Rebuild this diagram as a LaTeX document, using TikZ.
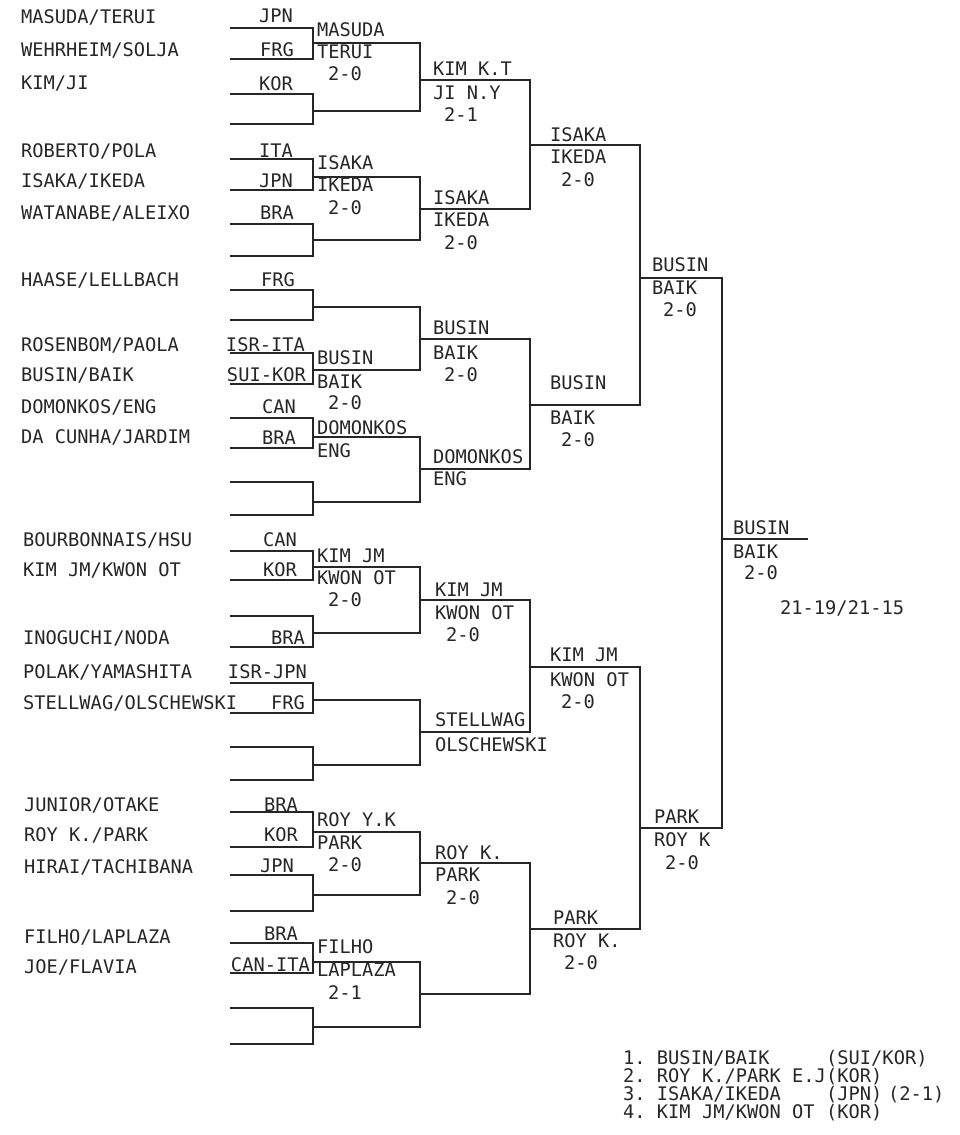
\documentclass[tikz,border=0pt]{standalone}
\usepackage{fontspec}
\setmonofont{DejaVu Sans Mono}
\newcounter{lb}
\tikzset{
  txt/.style={font=\ttfamily\fontsize{18.7}{20}\selectfont, inner sep=0pt, text=black!85},
  br/.style={line width=1.5pt, line join=miter, black!85}
}
% left-aligned text, y = vertical centre of capitals
\newcommand\T[3]{\stepcounter{lb}\node[txt,anchor=base west] (L\arabic{lb}) at (#1,#2+6.8) {#3};}
% right-aligned text
\newcommand\C[3]{\stepcounter{lb}\node[txt,anchor=base east] (L\arabic{lb}) at (#1,#2+6.8) {#3};}
\begin{document}
\begin{tikzpicture}[x=1pt,y=-1pt]
\useasboundingbox (0,0) rectangle (960,1135);

% ---------- player names ----------
\T{21}{17}{MASUDA/TERUI}
\T{21}{50}{WEHRHEIM/SOLJA}
\T{21}{83}{KIM/JI}
\T{21}{151}{ROBERTO/POLA}
\T{21}{181}{ISAKA/IKEDA}
\T{21}{213}{WATANABE/ALEIXO}
\T{21}{280}{HAASE/LELLBACH}
\T{21}{345}{ROSENBOM/PAOLA}
\T{21}{375}{BUSIN/BAIK}
\T{21}{407}{DOMONKOS/ENG}
\T{21}{437}{DA CUNHA/JARDIM}
\T{23}{540}{BOURBONNAIS/HSU}
\T{23}{570}{KIM JM/KWON OT}
\T{23}{638}{INOGUCHI/NODA}
\T{23}{672}{POLAK/YAMASHITA}
\T{23}{703}{STELLWAG/OLSCHEWSKI}
\T{24}{805}{JUNIOR/OTAKE}
\T{24}{835}{ROY K./PARK}
\T{24}{867}{HIRAI/TACHIBANA}
\T{24}{937}{FILHO/LAPLAZA}
\T{24}{967}{JOE/FLAVIA}

% ---------- countries ----------
\C{293}{16}{JPN}
\C{294}{50}{FRG}
\C{293}{84}{KOR}
\C{293}{151}{ITA}
\C{293}{181}{JPN}
\C{294}{213}{BRA}
\C{295}{280}{FRG}
\C{305}{345}{ISR-ITA}
\C{306}{375}{SUI-KOR}
\C{296}{407}{CAN}
\C{296}{438}{BRA}
\C{297}{540}{CAN}
\C{297}{570}{KOR}
\C{305}{638}{BRA}
\C{307}{672}{ISR-JPN}
\C{305}{703}{FRG}
\C{298}{805}{BRA}
\C{298}{835}{KOR}
\C{294}{866}{JPN}
\C{298}{934}{BRA}
\C{310}{965}{CAN-ITA}

% ---------- bracket lines ----------
\foreach \a/\b in {28/59, 94/124, 159/190, 224/256, 290/320, 353/384, 418/448, 482/515,
                   551/580, 616/647, 683/713, 747/780, 812/847, 875/911, 943/973, 1008/1044}
  \draw[br] (230,\a) -- (313,\a) -- (313,\b) -- (230,\b);
\foreach \a/\b in {43/111, 177/240, 307/370, 437/502, 567/633, 700/765, 832/895, 962/1027}
  \draw[br] (313,\a) -- (420,\a) -- (420,\b) -- (313,\b);
\foreach \a/\b in {80/209, 339/469, 600/732, 863/994}
  \draw[br] (420,\a) -- (530,\a) -- (530,\b) -- (420,\b);
\foreach \a/\b in {145/405, 667/929}
  \draw[br] (530,\a) -- (640,\a) -- (640,\b) -- (530,\b);
\draw[br] (640,278) -- (722,278) -- (722,828) -- (640,828);
\draw[br] (722,539) -- (808,539);

% ---------- round 1 winners ----------
\T{317}{30}{MASUDA}   \T{317}{52}{TERUI}   \T{328}{74}{2-0}
\T{317}{163}{ISAKA}   \T{317}{185}{IKEDA}  \T{328}{208}{2-0}
\T{317}{358}{BUSIN}   \T{317}{382}{BAIK}   \T{328}{403}{2-0}
\T{317}{428}{DOMONKOS} \T{317}{451}{ENG}
\T{317}{556}{KIM JM}  \T{317}{578}{KWON OT} \T{328}{600}{2-0}
\T{317}{820}{ROY Y.K} \T{317}{843}{PARK}   \T{328}{865}{2-0}
\T{317}{947}{FILHO}   \T{317}{970}{LAPLAZA} \T{328}{993}{2-1}

% ---------- round 2 winners ----------
\T{433}{69}{KIM K.T}  \T{433}{93}{JI N.Y}  \T{444}{115}{2-1}
\T{433}{198}{ISAKA}   \T{433}{220}{IKEDA}  \T{444}{243}{2-0}
\T{433}{328}{BUSIN}   \T{433}{353}{BAIK}   \T{444}{375}{2-0}
\T{433}{457}{DOMONKOS} \T{433}{479}{ENG}
\T{435}{590}{KIM JM}  \T{435}{613}{KWON OT} \T{446}{635}{2-0}
\T{435}{720}{STELLWAG} \T{435}{745}{OLSCHEWSKI}
\T{435}{853}{ROY K.}  \T{435}{875}{PARK}   \T{446}{898}{2-0}

% ---------- round 3 winners ----------
\T{550}{135}{ISAKA}   \T{550}{157}{IKEDA}  \T{561}{180}{2-0}
\T{550}{383}{BUSIN}   \T{550}{418}{BAIK}   \T{561}{440}{2-0}
\T{550}{655}{KIM JM}  \T{550}{680}{KWON OT} \T{561}{702}{2-0}
\T{553}{918}{PARK}    \T{553}{941}{ROY K.} \T{564}{963}{2-0}

% ---------- round 4 winners ----------
\T{652}{265}{BUSIN}   \T{652}{288}{BAIK}   \T{663}{310}{2-0}
\T{654}{817}{PARK}    \T{654}{840}{ROY K}  \T{665}{863}{2-0}

% ---------- final ----------
\T{733}{528}{BUSIN}   \T{733}{552}{BAIK}   \T{744}{573}{2-0}
\T{780}{608}{21-19/21-15}

% ---------- final standings ----------
\T{623}{1058}{1. BUSIN/BAIK}       \T{826}{1058}{(SUI/KOR)}
\T{623}{1076}{2. ROY K./PARK E.J}  \T{826}{1076}{(KOR)}
\T{623}{1094}{3. ISAKA/IKEDA}      \T{826}{1094}{(JPN)} \T{888}{1094}{(2-1)}
\T{623}{1112}{4. KIM JM/KWON OT}   \T{826}{1112}{(KOR)}
\end{tikzpicture}
\end{document}
